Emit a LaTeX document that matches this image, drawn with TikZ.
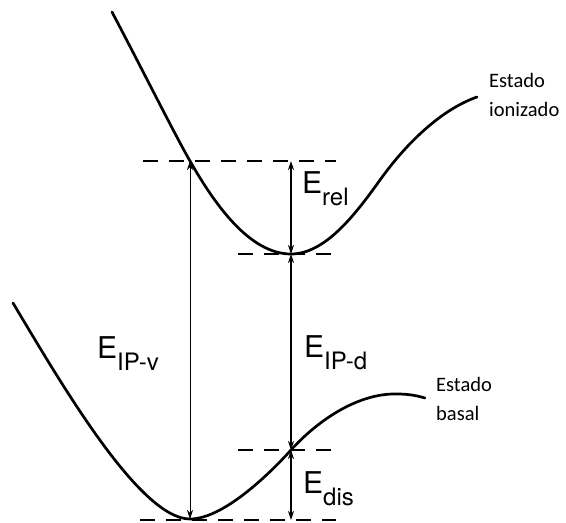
\documentclass[tikz,border=0pt]{standalone}
\usepackage{fontspec}
\setmainfont{TeX Gyre Heros}
\newfontfamily\statefont{Carlito}
\usetikzlibrary{arrows.meta}

\newcommand{\esub}[1]{\raisebox{-12pt}{\fontsize{24}{24}\selectfont #1}}

\begin{document}
\begin{tikzpicture}[
  x=1pt,y=-1pt,
  curve/.style={line width=2.7pt,line cap=round},
  level/.style={line width=1.3pt,dash pattern=on 15pt off 11pt},
  gap/.style={{Stealth[length=9pt,width=6pt]}-{Stealth[length=9pt,width=6pt]},line width=1.4pt},
  thingap/.style={gap,line width=0.8pt},
  elab/.style={font=\fontsize{30}{30}\selectfont,anchor=base west,inner sep=0pt},
  slab/.style={font=\statefont\fontsize{20.5}{29}\selectfont,align=left,anchor=north west,inner sep=0pt}
]
  \useasboundingbox (0,0) rectangle (566,523);

  % level points
  \coordinate (vtop) at (190,161);
  \coordinate (vbot) at (190,519);
  \coordinate (dtop) at (291,161);
  \coordinate (imin) at (291,254);
  \coordinate (cross) at (291,450);
  \coordinate (dbot) at (291,520);

  % dashed levels
  \draw[level] (143,161) -- (336,161);
  \draw[level] (238,254) -- (342,254);
  \draw[level] (238,450) -- (338,450);
  \draw[level] (140,520) -- (336,520);

  % ionized state
  \draw[curve] (112,12) .. controls (140,65) and (175,135) .. (vtop)
    .. controls (215,205) and (250,254) .. (imin)
    .. controls (325,254) and (355,215) .. (380,180)
    .. controls (405,145) and (440,110) .. (477,97);

  % ground state
  \draw[curve] (13,303) .. controls (62,385) and (140,519) .. (vbot)
    .. controls (220,519) and (262,482) .. (cross)
    .. controls (320,418) and (360,393) .. (397,394)
    .. controls (410,394) and (418,396) .. (425,398);

  % energy gaps
  \draw[thingap] (vbot) -- (vtop);
  \draw[gap] (imin) -- (dtop);
  \draw[gap] (cross) -- (imin);
  \draw[gap] (dbot) -- (cross);

  % labels
  \node[elab] (erel) at (302,193) {E\esub{rel}};
  \node[elab] (eipv) at (97,358) {E\esub{IP-v}};
  \node[elab] (eipd) at (304,357) {E\esub{IP-d}};
  \node[elab] (edis) at (303,493) {E\esub{dis}};

  \node[slab] (ion) at (489,73) {Estado\\ionizado};
  \node[slab] (basal) at (436,377) {Estado\\basal};
\end{tikzpicture}
\end{document}
